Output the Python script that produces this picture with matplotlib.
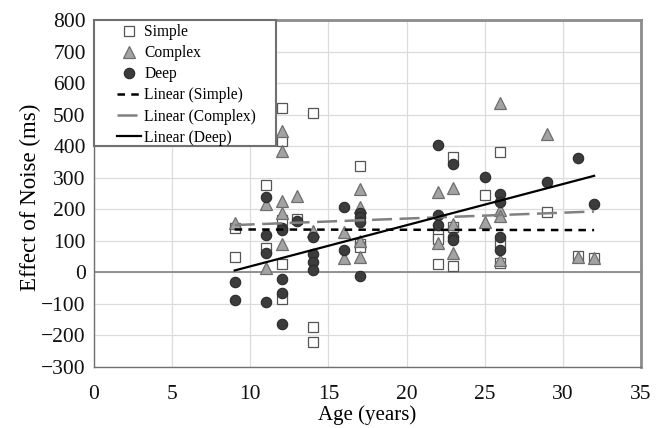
import numpy as np
import matplotlib
matplotlib.use("Agg")
import matplotlib.pyplot as plt
from matplotlib.patches import Rectangle

plt.rcParams['font.family'] = ['Liberation Serif', 'DejaVu Serif']

# ---- data ----
simple_age = [9, 9, 11, 11, 12, 12, 12, 12, 12, 13, 14, 14, 14, 17, 17, 17,
              22, 22, 22, 23, 23, 23, 25, 26, 26, 26, 29, 31, 32]
simple_val = [140, 48, 277, 76, 520, 418, 166, 25, -84, 168, 504, -172, -222, 337, 90, 80,
              118, 105, 27, 365, 145, 20, 245, 380, 92, 29, 191, 52, 47]

complex_age = [9, 11, 11, 12, 12, 12, 12, 12, 13, 14, 16, 16, 17, 17, 17, 17,
               22, 22, 23, 23, 23, 25, 26, 26, 26, 26, 29, 31, 32]
complex_val = [155, 217, 15, 448, 386, 227, 187, 90, 242, 130, 129, 45, 263, 206, 100, 48,
               255, 93, 266, 152, 62, 161, 536, 198, 179, 39, 440, 50, 47]

deep_age = [9, 9, 11, 11, 11, 11, 12, 12, 12, 12, 12, 13, 14, 14, 14, 14, 16, 16,
            17, 17, 17, 17, 22, 22, 22, 23, 23, 23, 25, 26, 26, 26, 26, 29, 31, 32]
deep_val = [-32, -88, 238, 118, 60, -93, 140, 133, -21, -66, -164, 163, 111, 57, 34, 8, 206, 71,
            189, 177, 161, -11, 403, 183, 150, 343, 113, 103, 301, 249, 224, 113, 71, 287, 364, 216]

# linear trend lines as drawn in the reference (end points at first and last age)
trend_age = [9, 32]
trend_simple = [136, 134]
trend_complex = [150, 193]
trend_deep = [6, 306]

x_ticks = [0, 5, 10, 15, 20, 25, 30, 35]
y_ticks = [-300, -200, -100, 0, 100, 200, 300, 400, 500, 600, 700, 800]

fig = plt.figure(figsize=(6.65, 4.28), dpi=100)
ax = fig.add_axes([94/665, 1 - 367/428, (641-94)/665, (367-20)/428])

ax.set_xlim(0, 35)
ax.set_ylim(-300, 800)
ax.set_xticks(x_ticks)
ax.set_yticks(y_ticks)
ax.grid(True, color='#dcdcdc', linewidth=0.9)
ax.set_axisbelow(True)
ax.axhline(0, color='#8a8a8a', linewidth=1.3, zorder=1.5)

for side in ['left', 'bottom']:
    ax.spines[side].set_color('#707070')
    ax.spines[side].set_linewidth(1.0)
for side in ['top', 'right']:
    ax.spines[side].set_color('#8c8c8c')
    ax.spines[side].set_linewidth(2.0)

ax.tick_params(length=0, labelsize=15.5, colors='#111111')
ax.tick_params(axis='x', pad=13)
ax.tick_params(axis='y', pad=6)

h_s, = ax.plot(simple_age, simple_val, linestyle='none', marker='s', markersize=6.5,
               markerfacecolor='white', markeredgecolor='#555555', markeredgewidth=0.9,
               label='Simple', zorder=3)
h_c, = ax.plot(complex_age, complex_val, linestyle='none', marker='^', markersize=8,
               markerfacecolor='#a3a3a3', markeredgecolor='#6e6e6e', markeredgewidth=0.9,
               label='Complex', zorder=3)
h_d, = ax.plot(deep_age, deep_val, linestyle='none', marker='o', markersize=7.5,
               markerfacecolor='#3c3c3c', markeredgecolor='#2a2a2a', markeredgewidth=0.8,
               label='Deep', zorder=3)

l_s, = ax.plot(trend_age, trend_simple, color='black', linewidth=1.8, linestyle=(0, (3, 2.5)),
               label='Linear (Simple)', zorder=4)
l_c, = ax.plot(trend_age, trend_complex, color='#808080', linewidth=1.8, linestyle=(0, (8, 3)),
               label='Linear (Complex)', zorder=4)
l_d, = ax.plot(trend_age, trend_deep, color='black', linewidth=1.6, linestyle='-',
               label='Linear (Deep)', zorder=4)

ax.set_xlabel('Age (years)', fontsize=15, labelpad=1)
ax.set_ylabel('Effect of Noise (ms)', fontsize=16.5, labelpad=0)
ax.yaxis.set_label_coords(-0.097, 0.49)

# legend frame (opaque box in upper-left corner)
frame = Rectangle((0, (367-146)/347), (276-94)/547, 1 - (367-146)/347,
                  transform=ax.transAxes, facecolor='white', edgecolor='#707070',
                  linewidth=1.5, zorder=9, clip_on=False)
ax.add_patch(frame)

leg = ax.legend(handles=[h_s, h_c, h_d, l_s, l_c, l_d], loc='upper left',
                bbox_to_anchor=((117-94)/547, (367-24)/347), borderaxespad=0, fontsize=11.2,
                frameon=False, handlelength=1.55, handletextpad=0.2,
                labelspacing=0.33, borderpad=0)
leg.set_zorder(10)

fig.savefig('out.png', dpi=100)
